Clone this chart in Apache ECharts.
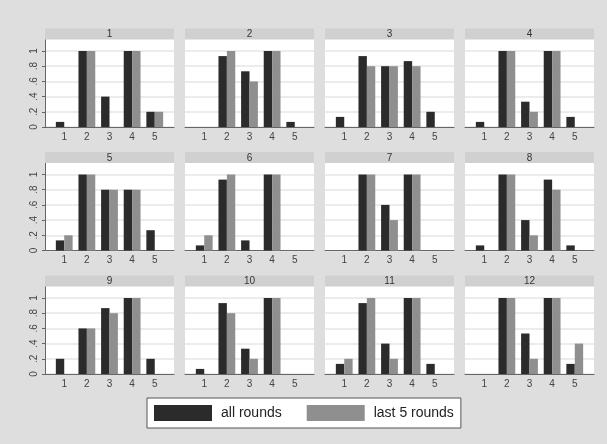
<!DOCTYPE html>
<html>
<head>
<meta charset="utf-8">
<script src="https://cdn.jsdelivr.net/npm/echarts@6/dist/echarts.min.js"></script>
<style>
html,body{margin:0;padding:0;background:#dedede;}
#chart{width:607px;height:444px;}
</style>
</head>
<body>
<div id="chart"></div>
<script>
// ---- data ----
const categories = ['1', '2', '3', '4', '5'];
const panelTitles = ['1', '2', '3', '4', '5', '6', '7', '8', '9', '10', '11', '12'];
const seriesNames = ['all rounds', 'last 5 rounds'];
const yTickValues = [0, 0.2, 0.4, 0.6, 0.8, 1];
const allRounds = [
  [0.067, 1, 0.4, 1, 0.2],
  [0, 0.933, 0.733, 1, 0.067],
  [0.133, 0.933, 0.8, 0.867, 0.2],
  [0.067, 1, 0.333, 1, 0.133],
  [0.133, 1, 0.8, 0.8, 0.267],
  [0.067, 0.933, 0.133, 1, 0],
  [0, 1, 0.6, 1, 0],
  [0.067, 1, 0.4, 0.933, 0.067],
  [0.2, 0.6, 0.867, 1, 0.2],
  [0.067, 0.933, 0.333, 1, 0],
  [0.133, 0.933, 0.4, 1, 0.133],
  [0, 1, 0.533, 1, 0.133]
];
const last5Rounds = [
  [0, 1, 0, 1, 0.2],
  [0, 1, 0.6, 1, 0],
  [0, 0.8, 0.8, 0.8, 0],
  [0, 1, 0.2, 1, 0],
  [0.2, 1, 0.8, 0.8, 0],
  [0.2, 1, 0, 1, 0],
  [0, 1, 0.4, 1, 0],
  [0, 1, 0.2, 0.8, 0],
  [0, 0.6, 0.8, 1, 0],
  [0, 0.8, 0.2, 1, 0],
  [0.2, 1, 0.2, 1, 0],
  [0, 1, 0.2, 1, 0.4]
];

// ---- layout ----
const colLeft = [45, 185, 325, 465];
const rowAxisY = [127, 250.5, 374];
const panelW = 129;
const unitPx = 76;          // pixels per 1.0 on y
const yMax = 1.2;
const visibleH = 87.5;      // white plot height below strip
const stripH = 11;
const unitX = panelW / 5.7;
const font = 'Liberation Sans, Arial, sans-serif';

const option = {
  backgroundColor: '#dedede',
  animation: false,
  textStyle: { fontFamily: font },
  legend: {
    data: seriesNames,
    left: 147, top: 398,
    padding: [7, 7, 7, 7],
    itemGap: 25, itemWidth: 58, itemHeight: 16,
    icon: 'rect',
    backgroundColor: '#ffffff',
    borderColor: '#555555', borderWidth: 1,
    textStyle: { fontSize: 14, color: '#222', fontFamily: font, padding: [0, 0, 0, 4] }
  },
  grid: [], xAxis: [], yAxis: [], series: [], graphic: []
};

const fmt = v => {
  if (Math.abs(v) < 1e-9) return '0';
  if (Math.abs(v - 1) < 1e-9) return '1';
  if (v > 1) return '';
  return '.' + Math.round(v * 10);
};

panelTitles.forEach((t, p) => {
  const r = Math.floor(p / 4), c = p % 4;
  const axisY = rowAxisY[r];
  const gh = yMax * unitPx;
  const top = axisY - gh;
  const left = colLeft[c];
  const bg = 2 * p, bi = 2 * p + 1;
  const firstCol = c === 0;

  // background grid (white plot, gridlines, axes)
  option.grid.push({ left: left, top: top, width: panelW, height: gh, show: true, backgroundColor: '#ffffff', borderWidth: 0 });
  option.xAxis.push({ type: 'value', gridIndex: bg, min: 0, max: 1,
    axisLine: { show: true, onZero: false, lineStyle: { color: '#666', width: 1 } },
    axisTick: { show: false }, axisLabel: { show: false }, splitLine: { show: false } });
  option.yAxis.push({ type: 'value', gridIndex: bg, min: 0, max: yMax, interval: 0.2,
    axisLine: { show: firstCol, lineStyle: { color: '#666', width: 1 } },
    axisTick: { show: firstCol, length: 3, customValues: yTickValues, lineStyle: { color: '#666' } },
    axisLabel: { show: firstCol, rotate: 90, margin: 6, fontSize: 10, color: '#444', formatter: fmt,
      customValues: yTickValues, fontFamily: font },
    splitLine: { show: true, lineStyle: { color: '#e6e6e6', width: 1.5 } } });

  // bar grid
  option.grid.push({ left: left + 0.35 * unitX, top: top, width: 5 * unitX, height: gh, show: false });
  option.xAxis.push({ type: 'category', gridIndex: bi, data: categories, boundaryGap: true,
    axisLine: { show: false }, axisTick: { show: false },
    axisLabel: { show: true, margin: 5, fontSize: 10, color: '#444', fontFamily: font } });
  option.yAxis.push({ type: 'value', gridIndex: bi, min: 0, max: yMax, show: false });

  option.series.push({ name: seriesNames[0], type: 'bar', xAxisIndex: bi, yAxisIndex: bi,
    data: allRounds[p], barWidth: 8.4, barGap: '0%', itemStyle: { color: '#2b2b2b' }, z: 3 });
  option.series.push({ name: seriesNames[1], type: 'bar', xAxisIndex: bi, yAxisIndex: bi,
    data: last5Rounds[p], barWidth: 8.4, barGap: '0%', itemStyle: { color: '#8f8f8f' }, z: 3 });

  // title strip (covers the top of the grid above the visible plot)
  const stripTop = axisY - visibleH - stripH;
  option.graphic.push({ type: 'rect', z: 100, shape: { x: left, y: stripTop, width: panelW, height: stripH },
    style: { fill: '#d0d0d0' } });
  option.graphic.push({ type: 'text', z: 101, x: left + panelW / 2, y: stripTop + stripH / 2 + 0.5,
    style: { text: t, fill: '#333', font: '10px ' + font, textAlign: 'center', textVerticalAlign: 'middle' } });
});

const chart = echarts.init(document.getElementById('chart'), null, { renderer: 'canvas' });
chart.setOption(option);
</script>
</body>
</html>
